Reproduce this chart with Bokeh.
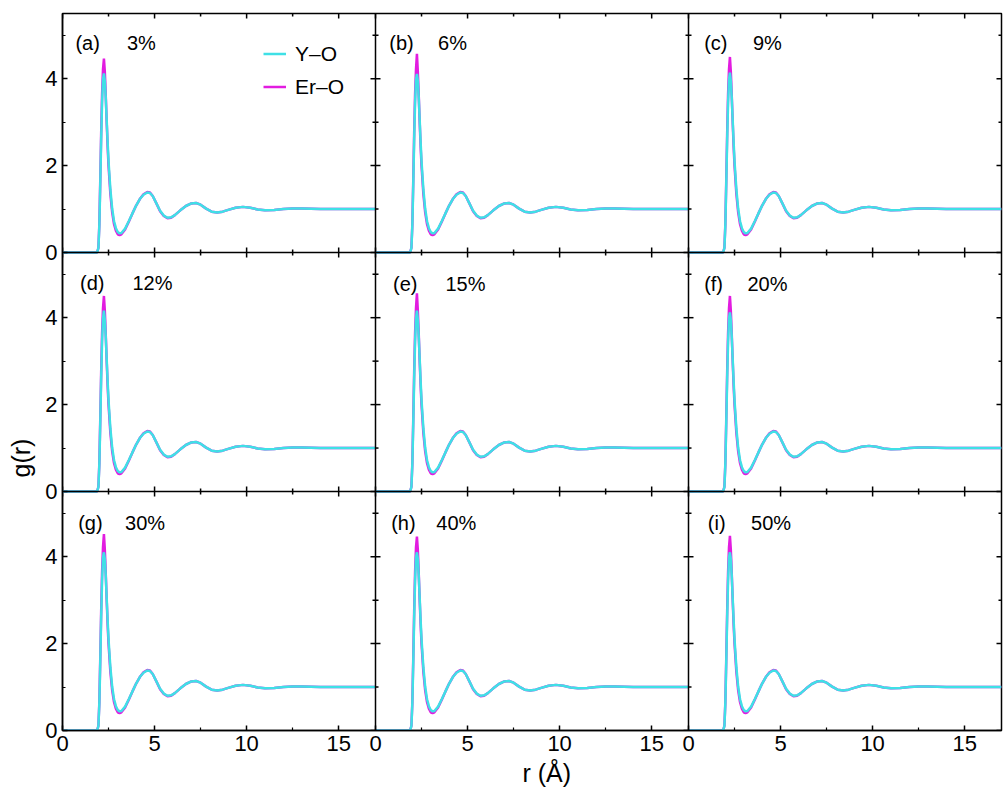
import numpy as np
from bokeh.plotting import figure
from bokeh.models import (Range1d, LinearAxis, FixedTicker, Span, Label,
                          Legend, LegendItem, Title)
from bokeh.embed import file_html
from bokeh.resources import INLINE

# ---------------- data ----------------
panel_tags = ["(a)", "(b)", "(c)", "(d)", "(e)", "(f)", "(g)", "(h)", "(i)"]
percents = ["3%", "6%", "9%", "12%", "15%", "20%", "30%", "40%", "50%"]

r = [0.0, 1.80, 1.88, 1.95, 2.00, 2.05, 2.10, 2.15, 2.20, 2.25, 2.30, 2.35,
     2.40, 2.45, 2.50, 2.60, 2.70, 2.80, 2.90, 3.00, 3.10, 3.20, 3.40, 3.60,
     3.80, 4.00, 4.20, 4.40, 4.60, 4.75, 4.90, 5.10, 5.30, 5.50, 5.70, 5.90,
     6.10, 6.40, 6.70, 7.00, 7.25, 7.50, 7.80, 8.10, 8.40, 8.70, 9.00, 9.40,
     9.80, 10.20, 10.60, 11.00, 11.50, 12.00, 12.50, 13.00, 14.00, 15.00,
     16.00, 17.00]

g_YO = [0.0, 0.0, 0.0, 0.10, 0.60, 1.55, 2.60, 3.45, 3.98, 4.13, 3.95, 3.55,
        3.05, 2.55, 2.10, 1.45, 1.00, 0.72, 0.56, 0.47, 0.44, 0.45, 0.55, 0.72,
        0.90, 1.08, 1.23, 1.33, 1.38, 1.37, 1.30, 1.13, 0.96, 0.85, 0.80, 0.81,
        0.86, 0.97, 1.07, 1.13, 1.14, 1.10, 1.01, 0.94, 0.92, 0.94, 0.98, 1.03,
        1.05, 1.03, 0.99, 0.97, 0.98, 1.00, 1.01, 1.01, 1.00, 1.00,
        1.00, 1.00]

g_ErO = [0.0, 0.0, 0.0, 0.11, 0.64, 1.65, 2.75, 3.65, 4.22, 4.48, 4.15, 3.60,
         3.00, 2.45, 2.00, 1.35, 0.92, 0.65, 0.50, 0.42, 0.40, 0.42, 0.53, 0.71,
         0.90, 1.08, 1.23, 1.34, 1.39, 1.38, 1.30, 1.13, 0.95, 0.84, 0.79, 0.80,
         0.86, 0.97, 1.07, 1.13, 1.14, 1.10, 1.01, 0.94, 0.92, 0.94, 0.98, 1.03,
         1.05, 1.03, 0.99, 0.97, 0.98, 1.00, 1.01, 1.01, 1.00, 1.00,
         1.00, 1.00]

# first-peak heights per panel (a..i)
peak_YO = [4.12, 4.11, 4.14, 4.16, 4.16, 4.12, 4.10, 4.10, 4.10]
peak_ErO = [4.46, 4.57, 4.50, 4.50, 4.56, 4.50, 4.52, 4.46, 4.48]
PEAK_INDEX = 9

x_tick_vals = [0, 5, 10, 15]
x_tick_labels = ["0", "5", "10", "15"]
x_minor_vals = [2.5, 7.5, 12.5]
y_tick_vals = [0, 2, 4]
y_tick_labels = ["0", "2", "4"]
y_minor_vals = [1, 3, 5]

R_MAX = 17.0
G_MAX = 5.5
NCOL, NROW = 3, 3

# ---------------- styling / layout ----------------
FONT = "Liberation Sans"
CYAN = "#3FE0E6"
MAGENTA = "#E21CE0"
LW = 2.5
TICK_FONT = "22px"

# label positions (r, g) inside each panel
tag_pos = [(0.7, 4.83), (0.75, 4.83), (0.85, 4.83),
           (0.95, 4.80), (0.95, 4.78), (0.85, 4.78),
           (0.85, 4.78), (0.85, 4.78), (1.05, 4.78)]
pct_pos = [(3.5, 4.83), (3.4, 4.83), (3.5, 4.83),
           (3.8, 4.80), (3.8, 4.78), (3.2, 4.78),
           (3.4, 4.78), (3.3, 4.78), (3.4, 4.78)]

FRAME_W = 939
FRAME_H = 717
B_LEFT, B_RIGHT, B_TOP, B_BOTTOM = 62, 4, 13, 62

XMAX = R_MAX * NCOL
YMAX = G_MAX * NROW

p = figure(width=B_LEFT + FRAME_W + B_RIGHT, height=B_TOP + FRAME_H + B_BOTTOM,
           x_range=Range1d(0, XMAX), y_range=Range1d(0, YMAX),
           x_axis_location=None, y_axis_location=None,
           output_backend="svg", toolbar_location=None, tools="")
p.min_border_left = B_LEFT
p.min_border_right = B_RIGHT
p.min_border_top = B_TOP
p.min_border_bottom = B_BOTTOM
p.grid.visible = False
p.outline_line_color = "black"
p.outline_line_width = 1.5
p.background_fill_color = "white"
p.border_fill_color = "white"

for j in range(NCOL):
    p.extra_x_ranges[f"c{j}"] = Range1d(-R_MAX * j, R_MAX * (NCOL - j))
for i in range(NROW):
    k = NROW - 1 - i
    p.extra_y_ranges[f"r{i}"] = Range1d(-G_MAX * k, G_MAX * (NROW - k))


def key(v):
    v = round(v, 6)
    return int(v) if float(v).is_integer() else v


x_major, x_minor, x_over = [], [], {}
for j in range(NCOL):
    for v, lab in zip(x_tick_vals, x_tick_labels):
        x_major.append(key(R_MAX * j + v))
        x_over[key(R_MAX * j + v)] = lab
    for v in x_minor_vals:
        x_minor.append(key(R_MAX * j + v))
y_major, y_minor, y_over = [], [], {}
for k in range(NROW):
    for v, lab in zip(y_tick_vals, y_tick_labels):
        y_major.append(key(G_MAX * k + v))
        y_over[key(G_MAX * k + v)] = lab
    for v in y_minor_vals:
        y_minor.append(key(G_MAX * k + v))


def make_axis(ticks, minors, overrides):
    ax = LinearAxis(ticker=FixedTicker(ticks=ticks, minor_ticks=minors))
    ax.major_tick_in = 5
    ax.major_tick_out = 0
    ax.minor_tick_in = 3
    ax.minor_tick_out = 0
    ax.axis_line_width = 1.5
    ax.major_tick_line_width = 1.5
    ax.minor_tick_line_width = 1.2
    ax.axis_line_color = "black"
    ax.major_tick_line_color = "black"
    ax.minor_tick_line_color = "black"
    ax.major_label_overrides = overrides
    ax.major_label_text_font = FONT
    ax.major_label_text_font_size = TICK_FONT
    ax.major_label_text_color = "black"
    ax.major_label_standoff = 5
    return ax


p.add_layout(make_axis(x_major, x_minor, x_over), "below")
p.add_layout(make_axis(y_major, y_minor, y_over), "left")

# axis titles, placed where the reference puts them
xt = Title(text="r (\u00c5)", align="left", offset=460, vertical_align="middle",
           standoff=8, text_font=FONT, text_font_size="25px",
           text_font_style="normal", text_color="black")
p.add_layout(xt, "below")
yt = Title(text="g(r)", align="left", offset=253, vertical_align="top",
           standoff=12, text_font=FONT, text_font_size="25px",
           text_font_style="normal", text_color="black")
p.add_layout(yt, "left")

# inner panel boundaries
for j in range(1, NCOL):
    p.add_layout(Span(location=R_MAX * j, dimension="height",
                      line_color="black", line_width=1.5))
for k in range(1, NROW):
    p.add_layout(Span(location=G_MAX * k, dimension="width",
                      line_color="black", line_width=1.5))

# ticks on inner boundaries (both sides) and on top/right frame edges (clipped -> inward)
vx, vy, vs = [], [], []
for xb in [R_MAX * j for j in range(1, NCOL)] + [XMAX]:
    for y in y_major:
        vx.append(xb); vy.append(y); vs.append(10)
    for y in y_minor:
        vx.append(xb); vy.append(y); vs.append(6)
p.scatter(vx, vy, size=vs, marker="dash", angle=0,
          line_color="black", line_width=1.5)
hx, hy, hs = [], [], []
for yb in [G_MAX * k for k in range(1, NROW)] + [YMAX]:
    for x in x_major:
        hx.append(x); hy.append(yb); hs.append(10)
    for x in x_minor:
        hx.append(x); hy.append(yb); hs.append(6)
p.scatter(hx, hy, size=hs, marker="dash", angle=np.pi / 2,
          line_color="black", line_width=1.5)

# curves
legend_r = {}
for n in range(NROW * NCOL):
    i, j = divmod(n, NCOL)
    er = list(g_ErO)
    er[PEAK_INDEX] = peak_ErO[n]
    yo = list(g_YO)
    yo[PEAK_INDEX] = peak_YO[n]
    rer = p.line(r, er, x_range_name=f"c{j}", y_range_name=f"r{i}",
                 line_color=MAGENTA, line_width=LW)
    ryo = p.line(r, yo, x_range_name=f"c{j}", y_range_name=f"r{i}",
                 line_color=CYAN, line_width=LW)
    if n == 0:
        legend_r["er"] = rer
        legend_r["yo"] = ryo
    tx, ty = tag_pos[n]
    p.add_layout(Label(x=tx, y=ty, x_range_name=f"c{j}", y_range_name=f"r{i}",
                       text=panel_tags[n], text_font=FONT, text_font_size="20px",
                       text_baseline="middle", text_align="left", text_color="black"))
    px_, py_ = pct_pos[n]
    p.add_layout(Label(x=px_, y=py_, x_range_name=f"c{j}", y_range_name=f"r{i}",
                       text=percents[n], text_font=FONT, text_font_size="20px",
                       text_baseline="middle", text_align="left", text_color="black"))

legend = Legend(items=[LegendItem(label="Y\u2013O", renderers=[legend_r["yo"]]),
                       LegendItem(label="Er\u2013O", renderers=[legend_r["er"]])],
                location=(201, 627), background_fill_alpha=0, border_line_color=None,
                padding=0, margin=0, spacing=0, glyph_width=23, glyph_height=33,
                label_height=33, label_standoff=9, label_text_font=FONT,
                label_text_font_size="21px", label_text_color="black")
p.add_layout(legend)

open("out.html", "w").write(file_html(p, INLINE))
